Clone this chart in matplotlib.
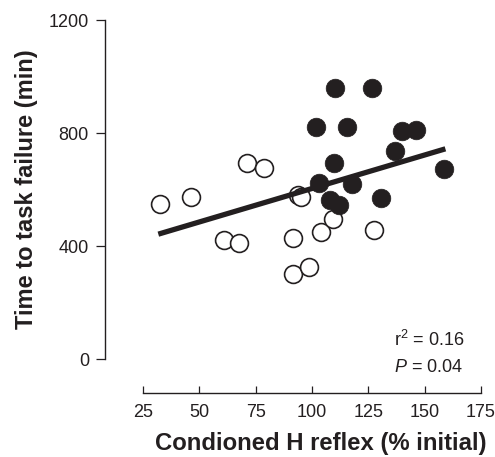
import matplotlib
matplotlib.use("Agg")
from matplotlib import pyplot as plt

plt.rcParams["font.family"] = ["Liberation Sans", "DejaVu Sans"]
plt.rcParams["mathtext.fontset"] = "custom"
plt.rcParams["mathtext.rm"] = "Liberation Sans"
plt.rcParams["mathtext.it"] = "Liberation Sans:italic"

ink = "#231f20"

# open circles
open_x = [32.6, 46.2, 71.1, 78.8, 61.1, 67.5, 94.0, 95.1, 91.4, 91.4, 98.8, 104.1, 109.1, 127.4]
open_y = [549, 574, 693, 675, 421, 410, 580, 572, 427, 300, 325, 451, 497, 457]

# filled circles
filled_x = [110.3, 126.6, 101.8, 115.5, 139.9, 146.2, 137.0, 109.6, 102.9, 117.7, 158.5, 107.8, 112.2, 130.6]
filled_y = [960, 960, 822, 822, 807, 811, 736, 693, 622, 619, 671, 563, 545, 569]

# regression line end points
fit_x = [31.8, 159.2]
fit_y = [442, 744]

x_ticks = [25, 50, 75, 100, 125, 150, 175]
y_ticks = [0, 400, 800, 1200]

fig = plt.figure(figsize=(4.95, 4.57), dpi=100)
ax = fig.add_axes([0.2889, 0.2144, 0.6828, 0.7418])

ax.scatter(open_x, open_y, s=165, facecolor="white", edgecolor=ink, linewidth=1.2, zorder=2)
ax.plot(fit_x, fit_y, color=ink, linewidth=3.8, solid_capstyle="butt", zorder=3)
ax.scatter(filled_x, filled_y, s=180, facecolor=ink, edgecolor=ink, linewidth=0.5, zorder=4)

ax.set_xlim(25, 175)
ax.set_ylim(0, 1200)
ax.set_xticks(x_ticks)
ax.set_yticks(y_ticks)

for s in ["top", "right"]:
    ax.spines[s].set_visible(False)
ax.spines["left"].set_position(("outward", 27.4))
ax.spines["bottom"].set_position(("outward", 24.5))
for s in ["left", "bottom"]:
    ax.spines[s].set_color(ink)
    ax.spines[s].set_linewidth(1.0)

ax.tick_params(axis="y", direction="out", length=6.5, width=0.9, color=ink,
               labelsize=13, labelcolor=ink, pad=5)
ax.tick_params(axis="x", direction="in", length=5, width=0.9, color=ink,
               labelsize=13, labelcolor=ink, pad=8)

ax.set_xlabel("Condioned H reflex (% initial)", fontsize=17.2, fontweight="bold",
              color=ink, labelpad=8)
ax.xaxis.label.set_x(0.525)
ax.set_ylabel("Time to task failure (min)", fontsize=17, fontweight="bold",
              color=ink, labelpad=8)

ax.text(0.743, 0.038, "r$^2$ = 0.16", transform=ax.transAxes, fontsize=13,
        color=ink, va="baseline", ha="left")
ax.text(0.743, -0.038, "$\\it{P}$ = 0.04", transform=ax.transAxes, fontsize=13,
        color=ink, va="baseline", ha="left")

plt.savefig("out.png", dpi=100)
